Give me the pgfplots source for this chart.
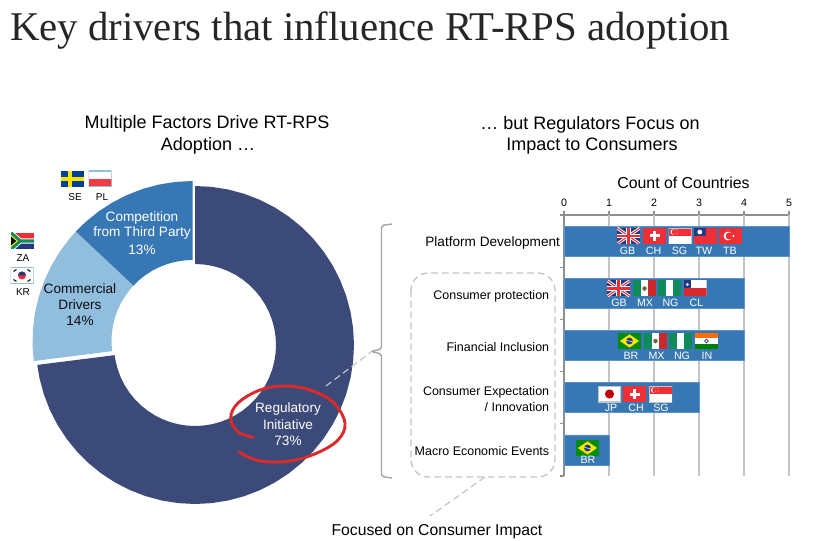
\documentclass[border=0pt]{standalone}
\usepackage{fontspec}
\setmainfont{Liberation Sans}
\newfontfamily\titlefont{Liberation Serif}
\usepackage{pgfplots}
\pgfplotsset{compat=1.18}
\definecolor{navy}{HTML}{3B4A78}
\definecolor{midb}{HTML}{3778B4}
\definecolor{lightb}{HTML}{92BEDD}
\definecolor{gridg}{HTML}{C4C4C4}
\definecolor{axg}{HTML}{8E8E8E}
\definecolor{fred}{HTML}{EE2F35}
\definecolor{fgreen}{HTML}{0F8A5A}
\definecolor{fblue}{HTML}{24397F}
\definecolor{ring}{HTML}{D92B2B}
\newcommand\fnt[1]{\fontsize{#1}{#1}\selectfont}
% flags: drawn in local pixels, 23 wide and 16 high, y downwards
\newcommand\flagbox[3]{\begin{scope}[shift={(#1,#2)}]\begin{scope}\clip (0,0) rectangle (23,16); #3 \end{scope}\end{scope}}
\newcommand\fGB[2]{\flagbox{#1}{#2}{\fill[fblue] (0,0) rectangle (23,16);
 \draw[white,line width=2.2pt] (0,0)--(23,16) (0,16)--(23,0);
 \draw[fred,line width=.8pt] (0,0)--(23,16) (0,16)--(23,0);
 \draw[white,line width=3.4pt] (11.5,0)--(11.5,16) (0,8)--(23,8);
 \draw[fred,line width=2pt] (11.5,0)--(11.5,16) (0,8)--(23,8);}}
\newcommand\fCH[2]{\flagbox{#1}{#2}{\fill[fred] (0,0) rectangle (23,16);
 \fill[white] (10,3) rectangle (13,13); \fill[white] (6.5,6.5) rectangle (16.5,9.5);}}
\newcommand\fSG[2]{\flagbox{#1}{#2}{\fill[white] (0,0) rectangle (23,16); \fill[fred] (0,0) rectangle (23,8);
 \fill[white] (4.5,4) circle (2.6); \fill[fred] (5.6,4) circle (2.4);
 \foreach \a/\b in {7/2,9/2,6.5/5,9.5/5,8/6}{\fill[white] (\a,\b) circle (.45);}
 \draw[gridg,line width=.6pt] (0,0) rectangle (23,16);}}
\newcommand\fTW[2]{\flagbox{#1}{#2}{\fill[fred] (0,0) rectangle (23,16); \fill[fblue] (0,0) rectangle (11.5,8); \fill[white] (5.75,4) circle (2.4);}}
\newcommand\fTB[2]{\flagbox{#1}{#2}{\fill[fred] (0,0) rectangle (23,16); \fill[white] (9,8) circle (4.4); \fill[fred] (10.2,8) circle (3.5); \fill[white] (14.5,8) circle (1.2);}}
\newcommand\fMX[2]{\flagbox{#1}{#2}{\fill[white] (0,0) rectangle (23,16); \fill[fgreen] (0,0) rectangle (7.7,16); \fill[fred!85!black] (15.3,0) rectangle (23,16); \fill[brown!70!black] (11.5,8) circle (2.2); \fill[fgreen] (11.5,9.4) circle (1);}}
\newcommand\fNG[2]{\flagbox{#1}{#2}{\fill[white] (0,0) rectangle (23,16); \fill[fgreen] (0,0) rectangle (7.7,16); \fill[fgreen] (15.3,0) rectangle (23,16);}}
\newcommand\fCL[2]{\flagbox{#1}{#2}{\fill[white] (0,0) rectangle (23,16); \fill[fred!90!black] (0,8) rectangle (23,16); \fill[fblue] (0,0) rectangle (7.7,8); \fill[white] (3.85,4) circle (1.4);}}
\newcommand\fBR[2]{\flagbox{#1}{#2}{\fill[green!55!black!85!fgreen] (0,0) rectangle (23,16); \fill[yellow!90!orange] (2,8)--(11.5,1.4)--(21,8)--(11.5,14.6)--cycle; \fill[fblue] (11.5,8) circle (3.4); \draw[white,line width=.4pt] (8.3,7.4)--(14.7,8.8);}}
\newcommand\fIN[2]{\flagbox{#1}{#2}{\fill[white] (0,0) rectangle (23,16); \fill[orange!85!red] (0,0) rectangle (23,5.3); \fill[green!50!black] (0,10.7) rectangle (23,16); \draw[fblue,line width=.5pt] (11.5,8) circle (1.9);}}
\newcommand\fJP[2]{\flagbox{#1}{#2}{\fill[white] (0,0) rectangle (23,16); \fill[red!75!black] (11.5,8) circle (4.6); \draw[gridg,line width=.8pt] (0,0) rectangle (23,16);}}
\newcommand\fSE[2]{\flagbox{#1}{#2}{\fill[blue!45!black!75!cyan] (0,0) rectangle (23,16); \fill[yellow!85!orange] (6.5,0) rectangle (10.5,16); \fill[yellow!85!orange] (0,6) rectangle (23,10);}}
\newcommand\fPL[2]{\flagbox{#1}{#2}{\fill[white] (0,0) rectangle (23,16); \fill[fred!90!pink] (0,8) rectangle (23,16); \draw[lightb,line width=1pt] (0,0) rectangle (23,16);}}
\newcommand\fZA[2]{\flagbox{#1}{#2}{\fill[fred] (0,0) rectangle (23,8); \fill[fblue] (0,8) rectangle (23,16);
 \draw[white,line width=4pt] (0,0)--(9,8)--(0,16) (9,8)--(23,8);
 \draw[fgreen,line width=2.6pt] (0,0)--(9,8)--(0,16) (9,8)--(23,8);
 \fill[yellow!90!orange] (0,2)--(7,8)--(0,14)--cycle; \fill[black] (0,3.6)--(5.2,8)--(0,12.4)--cycle;}}
\newcommand\fKR[2]{\flagbox{#1}{#2}{\fill[white] (0,0) rectangle (23,16); \fill[fred] (11.5,8) circle (4); \fill[fblue] (7.5,8) arc[start angle=180,end angle=360,radius=4]--cycle;
 \draw[black!80,line width=1pt] (3,4)--(6,2) (17,2)--(20,4) (3,12)--(6,14) (17,14)--(20,12);
 \draw[lightb,line width=1pt] (0,0) rectangle (23,16);}}
\pgfplotsset{donut/.style={x=0.75pt,y=0.75pt,hide axis,xmin=-170,xmax=170,ymin=-170,ymax=170,anchor=origin,clip=false}}
\begin{document}
\begin{tikzpicture}[x=0.75pt,y=-0.75pt,
  lbl/.style={inner sep=0pt,outer sep=0pt,align=center}]
\path[use as bounding box] (0,0) rectangle (813,541);
% title
\node[lbl,anchor=base west,text=black!85] at (10,41) {\titlefont\fnt{30.6}Key drivers that influence RT-RPS adoption};
% subtitles
\node[lbl,font=\fnt{13.5}] at (207,124) {Multiple Factors Drive RT-RPS};
\node[lbl,font=\fnt{13.5}] at (208,146) {Adoption \dots};
\node[lbl,font=\fnt{13.5}] at (590,125) {\dots\ but Regulators Focus on};
\node[lbl,font=\fnt{13.5}] at (592,146) {Impact to Consumers};
\node[lbl,font=\fnt{11.9}] at (683.5,183) {Count of Countries};
% donut
\begin{axis}[donut,at={(146.25pt,-258.75pt)}]
\addplot[fill=navy,draw=none,data cs=polar] coordinates {(90,159)(84,159)(78,159)(72,159)(66,159)(60,159)(54,159)(48,159)(42,159)(36,159)(30,159)(24,159)(18,159)(12,159)(6,159)(0,159)(-6,159)(-12,159)(-18,159)(-24,159)(-30,159)(-36,159)(-42,159)(-48,159)(-54,159)(-60,159)(-66,159)(-72,159)(-78,159)(-84,159)(-90,159)(-96,159)(-102,159)(-108,159)(-114,159)(-120,159)(-126,159)(-132,159)(-138,159)(-144,159)(-150,159)(-156,159)(-162,159)(-168,159)(-172.8,159)
(-172.8,81)(-168,81)(-162,81)(-156,81)(-150,81)(-144,81)(-138,81)(-132,81)(-126,81)(-120,81)(-114,81)(-108,81)(-102,81)(-96,81)(-90,81)(-84,81)(-78,81)(-72,81)(-66,81)(-60,81)(-54,81)(-48,81)(-42,81)(-36,81)(-30,81)(-24,81)(-18,81)(-12,81)(-6,81)(0,81)(6,81)(12,81)(18,81)(24,81)(30,81)(36,81)(42,81)(48,81)(54,81)(60,81)(66,81)(72,81)(78,81)(84,81)(90,81)} --cycle;
\end{axis}
\begin{axis}[donut,at={(144.375pt,-255.75pt)}]
\addplot[fill=lightb,draw=none,data cs=polar] coordinates {(187.2,160)(182,160)(176,160)(170,160)(164,160)(158,160)(152,160)(146,160)(140,160)(136.8,160)(136.8,81)(140,81)(146,81)(152,81)(158,81)(164,81)(170,81)(176,81)(182,81)(187.2,81)} --cycle;
\addplot[fill=midb,draw=none,data cs=polar] coordinates {(136.8,160)(132,160)(126,160)(120,160)(114,160)(108,160)(102,160)(96,160)(90,160)(90,81)(96,81)(102,81)(108,81)(114,81)(120,81)(126,81)(132,81)(136.8,81)} --cycle;
\end{axis}
% donut labels
\node[lbl,font=\fnt{10.2},text=white] at (142,217.5) {Competition};
\node[lbl,font=\fnt{10.2},text=white] at (142,233) {from Third Party};
\node[lbl,font=\fnt{10.2},text=white] at (142,250) {13\%};
\node[lbl,font=\fnt{10.2},text=black!85!navy] at (80,289) {Commercial};
\node[lbl,font=\fnt{10.2},text=black!85!navy] at (80,305) {Drivers};
\node[lbl,font=\fnt{10.2},text=black!85!navy] at (80,321) {14\%};
\node[lbl,font=\fnt{10.2},text=white] at (288,409) {Regulatory};
\node[lbl,font=\fnt{10.2},text=white] at (288,425) {Initiative};
\node[lbl,font=\fnt{10.2},text=white] at (288,441) {73\%};
% hand-drawn ring
\draw[ring,line width=2.2pt,line cap=round] plot[smooth,tension=0.6] coordinates {(253.3,437.3)(238,432)(230.7,418)(238,403)(260,390)(285,386)(310,390)(333,402)(345,423)(338,440)(317,453)(290,461)(260,461)(239,452)};
% side flags
\fSE{61}{171}\fPL{88.5}{171}\fZA{11}{233}\fKR{10.5}{267.5}
\node[lbl,font=\fnt{7.5}] at (75,197) {SE};
\node[lbl,font=\fnt{7.5}] at (102,197) {PL};
\node[lbl,font=\fnt{7.5}] at (23,258) {ZA};
\node[lbl,font=\fnt{7.5}] at (23,292.5) {KR};
% brackets and leaders
\draw[gridg!85!black,line width=1.1pt,rounded corners=1.5pt] (392,224)--(381.5,225.5)--(381.5,349)--(371,351.5)--(381.5,354)--(381.5,476.5)--(392,478);
\draw[gridg,line width=.9pt,dash pattern=on 5pt off 3pt] (326,386)--(371,352);
\draw[gridg,line width=1pt,dash pattern=on 5pt off 3pt,rounded corners=13pt] (411,273) rectangle (555,477);
\draw[gridg,line width=.9pt,dash pattern=on 5pt off 3pt] (485,477)--(430,516);
\node[lbl,font=\fnt{11.8}] at (437,531) {Focused on Consumer Impact};
% bars
\begin{axis}[at={(423pt,-161.25pt)},anchor=north west,scale only axis,
  width=168.75pt,height=195.75pt,
  xmin=0,xmax=5,ymin=0,ymax=5,y dir=reverse,
  axis x line*=top,axis y line*=left,
  axis line style={axg,line width=1.5pt,-},
  xtick={0,1,2,3,4,5},ytick={0,1,2,3,4,5},yticklabels={},
  tick style={axg,line width=.8pt},
  major tick length=3pt,
  tick align=outside,
  x tick label style={font=\fnt{8},/pgf/number format/assume math mode=true},
  xticklabel shift=0pt,
  clip=false]
\addplot[gridg,line width=1.2pt] coordinates {(1,0)(1,5)};
\addplot[gridg,line width=1.2pt] coordinates {(2,0)(2,5)};
\addplot[gridg,line width=1.2pt] coordinates {(3,0)(3,5)};
\addplot[gridg,line width=1.2pt] coordinates {(4,0)(4,5)};
\addplot[gridg,line width=1.2pt] coordinates {(5,0)(5,5)};
\addplot[xbar,bar width=22.5pt,fill=midb,draw=midb!80!white,line width=.5pt,bar shift=0pt] coordinates {(5,0.5)(4,1.5)(4,2.5)(3,3.5)(1,4.5)};
\node[lbl,anchor=east,font=\fnt{10.2}] at (axis cs:-0.09,0.53) {Platform Development};
\node[lbl,anchor=east,font=\fnt{9.35}] at (axis cs:-0.33,1.55) {Consumer protection};
\node[lbl,anchor=east,font=\fnt{9.35}] at (axis cs:-0.33,2.53) {Financial Inclusion};
\node[lbl,anchor=east,align=right,font=\fnt{9.35}] at (axis cs:-0.33,3.53) {Consumer Expectation\\[2.5pt]/ Innovation};
\node[lbl,anchor=east,font=\fnt{9.35}] at (axis cs:-0.33,4.53) {Macro Economic Events};
\end{axis}
% flags on bars
\fGB{617}{228}\fCH{643}{228}\fSG{668.5}{228}\fTW{694}{228}\fTB{719}{228}
\fGB{607}{280.5}\fMX{633}{280.5}\fNG{658}{280.5}\fCL{683.5}{280.5}
\fBR{618}{333}\fMX{644}{333}\fNG{669}{333}\fIN{695}{333}
\fJP{598}{386}\fCH{623}{386}\fSG{649}{386}
\fBR{576}{440}
\foreach \t/\x/\y in {GB/627.5/250.5,CH/653.5/250.5,SG/679.5/250.5,TW/704/250.5,TB/730/250.5,
 GB/619/303,MX/645/303,NG/670.5/303,CL/696.5/303,
 BR/631/355.5,MX/656.5/355.5,NG/682/355.5,IN/707/355.5,
 JP/611/408,CH/636/408,SG/661/408,BR/588/460}{
 \node[lbl,font=\fnt{8},text=white] at (\x,\y) {\t};}
\end{tikzpicture}
\end{document}
